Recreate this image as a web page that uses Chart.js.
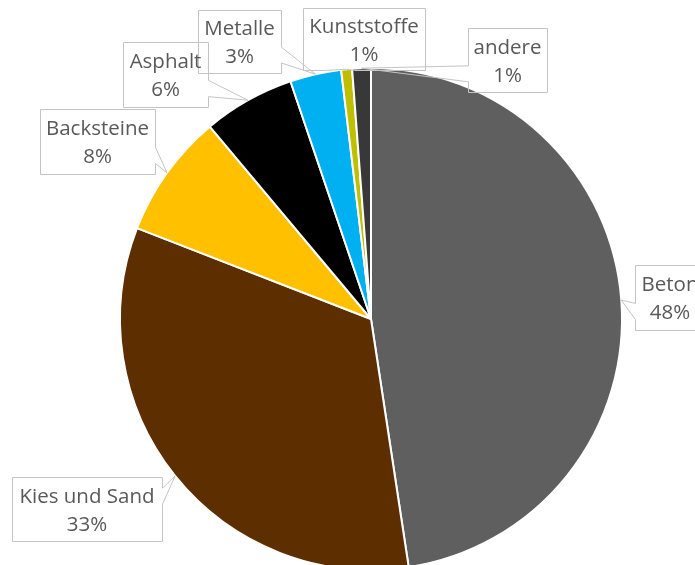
<!DOCTYPE html>
<html>
<head>
<meta charset="utf-8">
<script src="https://cdn.jsdelivr.net/npm/chart.js@4"></script>
<style>
  html, body { margin: 0; padding: 0; background: #fff; overflow: hidden; }
  #wrap { width: 695px; height: 600px; }
</style>
</head>
<body>
<div id="wrap"><canvas id="myChart"></canvas></div>
<script>
// Anteile der Baustoffe (in %)
const categories = ['Beton', 'Kies und Sand', 'Backsteine', 'Asphalt', 'Metalle', 'Kunststoffe', 'andere'];
const shares = [47.6, 33.3, 8.0, 5.9, 3.3, 0.7, 1.2];
const colors = ['#5f5f5f', '#5c2e00', '#ffc000', '#000000', '#00b0f0', '#bfbf00', '#383838'];

// callout boxes [left, top, width, height]
const labelBoxes = [
    [635, 265, 70, 65],
    [12, 477, 150, 64],
    [40, 109, 115, 65],
    [123, 42, 85, 65],
    [198, 10, 83, 63],
    [303, 8, 122, 62],
    [468, 28, 79, 64]
];

// Excel-like "wedgeRectCallout" shape
function calloutPath(c, box, px, py) {
    const [l, t, w, h] = box;
    const r = l + w, b = t + h;
    const dxPos = px - (l + w / 2), dyPos = py - (t + h / 2);
    const dxAdy = Math.abs(dxPos * h) - Math.abs(dyPos * w);
    const x1 = l + w * (dxPos > 0 ? 7 : 2) / 12, x2 = l + w * (dxPos > 0 ? 10 : 5) / 12;
    const y1 = t + h * (dyPos > 0 ? 7 : 2) / 12, y2 = t + h * (dyPos > 0 ? 10 : 5) / 12;
    let side;
    if (dxAdy > 0) side = dxPos > 0 ? 'r' : 'l';
    else side = dyPos > 0 ? 'b' : 't';
    c.beginPath();
    c.moveTo(l, t);
    if (side === 't') { c.lineTo(x1, t); c.lineTo(px, py); c.lineTo(x2, t); }
    c.lineTo(r, t);
    if (side === 'r') { c.lineTo(r, y1); c.lineTo(px, py); c.lineTo(r, y2); }
    c.lineTo(r, b);
    if (side === 'b') { c.lineTo(x2, b); c.lineTo(px, py); c.lineTo(x1, b); }
    c.lineTo(l, b);
    if (side === 'l') { c.lineTo(l, y2); c.lineTo(px, py); c.lineTo(l, y1); }
    c.closePath();
}

const calloutLabels = {
    id: 'calloutLabels',
    afterDatasetsDraw(chart) {
        const c = chart.ctx;
        const meta = chart.getDatasetMeta(0);
        const total = shares.reduce((a, v) => a + v, 0);
        c.save();
        c.lineWidth = 1;
        c.strokeStyle = '#c4c4c4';
        meta.data.forEach((arc, i) => {
            const p = arc.getProps(['x', 'y', 'startAngle', 'endAngle', 'outerRadius'], true);
            const mid = (p.startAngle + p.endAngle) / 2;
            const px = p.x + Math.cos(mid) * p.outerRadius;
            const py = p.y + Math.sin(mid) * p.outerRadius;
            const box = labelBoxes[i].map((v, k) => k < 2 ? v + 0.5 : v);
            calloutPath(c, box, px, py);
            c.stroke();
        });
        c.fillStyle = '#595959';
        c.font = '20.5px "Open Sans"';
        c.textAlign = 'center';
        c.textBaseline = 'middle';
        meta.data.forEach((arc, i) => {
            const [l, t, w, h] = labelBoxes[i];
            const cx = l + w / 2, cy = t + h / 2;
            c.fillText(categories[i], cx, cy - 12);
            c.fillText(Math.round(shares[i] / total * 100) + '%', cx, cy + 16);
        });
        c.restore();
    }
};

const ctx = document.getElementById('myChart');

new Chart(ctx, {
    type: 'pie',
    data: {
        labels: categories,
        datasets: [{
            data: shares,
            backgroundColor: colors,
            borderColor: '#ffffff',
            borderWidth: 2
        }]
    },
    options: {
        responsive: true,
        maintainAspectRatio: false,
        animation: false,
        radius: 251,
        layout: {
            padding: { left: 120, right: 73, top: 68, bottom: 30 }
        },
        plugins: {
            legend: { display: false },
            tooltip: { enabled: false }
        }
    },
    plugins: [calloutLabels]
});
</script>
</body>
</html>
